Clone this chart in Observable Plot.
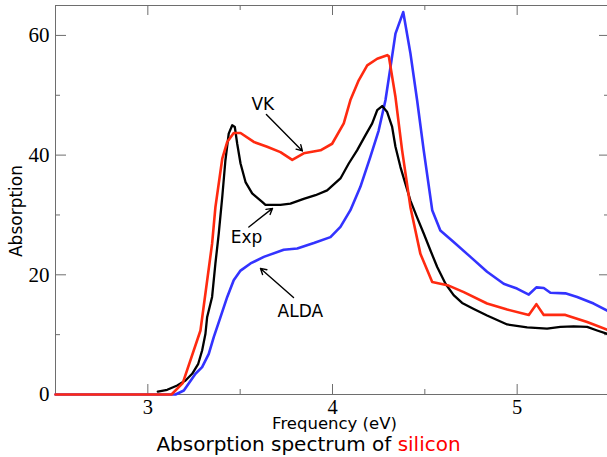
<!DOCTYPE html>
<html><head><meta charset="utf-8">
<script src="https://cdn.jsdelivr.net/npm/d3@7"></script>
<script src="https://cdn.jsdelivr.net/npm/@observablehq/plot@0.6"></script>
<style>
html,body{margin:0;padding:0;background:#fff;overflow:hidden;width:607px;height:457px}
#title{font-family:"DejaVu Sans";font-size:20px;line-height:25px;height:25px;text-align:center;padding-left:10px;width:597px;color:#000;white-space:nowrap}
</style></head><body>
<div id="chart"></div>
<div id="title">Absorption spectrum of <span style="color:#ff0000">silicon</span></div>
<script>
// ---- data (frequency in eV, absorption) ----
const vkX = [2.5, 3.128, 3.189, 3.285, 3.348, 3.366, 3.403, 3.430, 3.465, 3.502, 3.574, 3.646, 3.718, 3.782, 3.844, 3.935, 3.998, 4.061, 4.097, 4.142, 4.188, 4.242, 4.296, 4.305, 4.341, 4.377, 4.422, 4.476, 4.540, 4.629, 4.711, 4.837, 4.946, 5.063, 5.104, 5.144, 5.261, 5.379, 5.5];
const vkY = [0, 0, 1.9, 10.7, 25.2, 31.3, 39.4, 42.2, 43.7, 43.7, 42.2, 41.4, 40.5, 39.2, 40.3, 40.8, 41.9, 45.3, 49.2, 52.5, 55.0, 56.1, 56.7, 56.5, 49.7, 40.8, 31.3, 23.5, 18.8, 18.2, 17.1, 15.2, 14.2, 13.3, 15.1, 13.3, 13.3, 12.1, 10.7];

const aldaX = [2.5, 3.150, 3.195, 3.258, 3.294, 3.330, 3.357, 3.393, 3.430, 3.465, 3.502, 3.556, 3.628, 3.736, 3.809, 3.899, 3.989, 4.043, 4.097, 4.151, 4.205, 4.250, 4.287, 4.314, 4.341, 4.383, 4.422, 4.458, 4.494, 4.540, 4.584, 4.656, 4.747, 4.837, 4.927, 4.999, 5.063, 5.104, 5.144, 5.180, 5.261, 5.325, 5.414, 5.5];
const aldaY = [0, 0, 0.67, 3.46, 4.57, 6.8, 9.6, 12.9, 16.3, 19.1, 20.7, 21.9, 23.0, 24.2, 24.4, 25.3, 26.3, 28.0, 30.8, 34.7, 39.7, 44.1, 49.2, 54.7, 60.3, 63.9, 57.0, 49.2, 40.8, 30.8, 27.4, 25.5, 23.0, 20.5, 18.5, 17.7, 16.7, 17.9, 17.8, 17.0, 16.9, 16.3, 15.2, 13.8];

const expX = [3.054, 3.105, 3.159, 3.204, 3.240, 3.273, 3.294, 3.312, 3.321, 3.348, 3.366, 3.384, 3.403, 3.420, 3.438, 3.457, 3.471, 3.484, 3.502, 3.529, 3.565, 3.619, 3.637, 3.718, 3.772, 3.844, 3.908, 3.971, 4.043, 4.088, 4.133, 4.178, 4.215, 4.242, 4.269, 4.296, 4.323, 4.341, 4.368, 4.395, 4.422, 4.458, 4.494, 4.530, 4.567, 4.612, 4.656, 4.702, 4.765, 4.837, 4.946, 5.054, 5.162, 5.234, 5.306, 5.379, 5.433, 5.5];
const expY = [0.5, 0.79, 1.5, 2.34, 3.46, 5.13, 7.36, 10.15, 12.9, 16.3, 21.9, 26.9, 33.0, 39.1, 43.6, 45.0, 44.7, 41.9, 38.6, 35.5, 33.6, 32.2, 31.7, 31.7, 31.9, 32.7, 33.3, 34.1, 36.1, 38.6, 40.8, 43.3, 45.3, 47.5, 48.2, 47.2, 44.7, 41.4, 38.0, 35.2, 32.4, 29.6, 26.9, 24.1, 21.3, 18.5, 16.6, 15.3, 14.3, 13.2, 11.7, 11.2, 11.0, 11.3, 11.4, 11.3, 10.7, 10.0];

const xMajor = [3, 4, 5];
const xMinor = [3.5, 4.5];
const yMajor = [0, 20, 40, 60];
const yMinor = [10, 30, 50];

// annotations
const labelText = ["VK", "Exp", "ALDA"];
const labelX = [3.623, 3.534, 3.826];
const labelY = [48.5, 26.25, 13.9];
const arrowX1 = [3.642, 3.547, 3.789];
const arrowY1 = [46.8, 27.98, 16.2];
const arrowX2 = [3.837, 3.675, 3.610];
const arrowY2 = [40.7, 31.1, 21.07];

const xTitle = "Frequency (eV)";
const yTitle = "Absorption";

// ---- build tables ----
const toPts = (xs, ys) => xs.map((x, i) => ({x, y: ys[i]}));
const vk = toPts(vkX, vkY), alda = toPts(aldaX, aldaY), exp = toPts(expX, expY);
const labels = labelText.map((t, i) => ({t, x: labelX[i], y: labelY[i]}));
const arrows = arrowX1.map((x1, i) => ({x1, y1: arrowY1[i], x2: arrowX2[i], y2: arrowY2[i]}));

const W = 607, H = 432, mL = 55, mR = -2, mT = 5, mB = 38;
const innerW = W - mL - mR, innerH = H - mT - mB;
const axisColor = "#6e6e6e";
const serif = "'Liberation Serif', 'DejaVu Serif', serif";

const chart = Plot.plot({
  width: W, height: H,
  marginLeft: mL, marginRight: mR, marginTop: mT, marginBottom: mB,
  style: {fontFamily: "'DejaVu Sans'", background: "white", overflow: "visible"},
  x: {domain: [2.5, 5.5]},
  y: {domain: [0, 65]},
  marks: [
    Plot.frame({stroke: axisColor, strokeWidth: 1}),
    // inward ticks: bottom / top
    Plot.tickX(xMajor, {x: d => d, insetTop: innerH - 10, stroke: axisColor}),
    Plot.tickX(xMinor, {x: d => d, insetTop: innerH - 5, stroke: axisColor}),
    Plot.tickX(xMajor, {x: d => d, insetBottom: innerH - 10, stroke: axisColor}),
    Plot.tickX(xMinor, {x: d => d, insetBottom: innerH - 5, stroke: axisColor}),
    // inward ticks: left / right
    Plot.tickY(yMajor, {y: d => d, insetRight: innerW - 11, stroke: axisColor}),
    Plot.tickY(yMinor, {y: d => d, insetRight: innerW - 5, stroke: axisColor}),
    Plot.tickY(yMajor, {y: d => d, insetLeft: innerW - 10, stroke: axisColor}),
    Plot.tickY(yMinor, {y: d => d, insetLeft: innerW - 5, stroke: axisColor}),
    Plot.axisX({ticks: xMajor, tickSize: 0, tickPadding: 5, fontSize: 20.5, fontFamily: serif, label: null, tickFormat: d => String(d)}),
    Plot.axisY({ticks: yMajor, tickSize: 0, tickPadding: 6, fontSize: 21, fontFamily: serif, label: null, tickFormat: d => String(d)}),
    // curves
    Plot.line(alda, {x: "x", y: "y", stroke: "#3333ff", strokeWidth: 2.6, strokeLinejoin: "round"}),
    Plot.line(exp, {x: "x", y: "y", stroke: "#000000", strokeWidth: 2.3, strokeLinejoin: "round"}),
    Plot.line(vk, {x: "x", y: "y", stroke: "#ff2a10", strokeWidth: 2.6, strokeLinejoin: "round"}),
    // annotations
    Plot.arrow(arrows, {x1: "x1", y1: "y1", x2: "x2", y2: "y2", stroke: "#000", strokeWidth: 1.4, headLength: 7, bend: 0}),
    Plot.text(labels, {x: "x", y: "y", text: "t", fontSize: 17, fill: "#000"}),
    // axis titles
    Plot.text([xTitle], {frameAnchor: "bottom", dy: 34, dx: 2, lineAnchor: "bottom", textAnchor: "middle", fontSize: 16.5, fill: "#000"}),
    Plot.text([yTitle], {frameAnchor: "left", dx: -33.5, dy: 11, rotate: -90, lineAnchor: "bottom", textAnchor: "middle", fontSize: 17, fill: "#000"})
  ]
});
document.getElementById("chart").appendChild(chart);
</script>
</body></html>
